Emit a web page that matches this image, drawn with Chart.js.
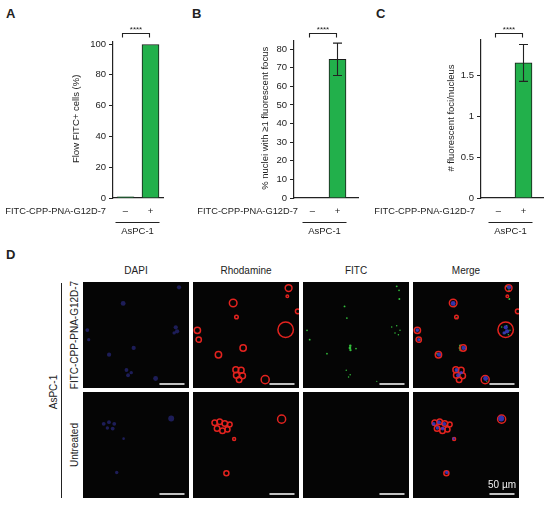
<!DOCTYPE html>
<html>
<head>
<meta charset="utf-8">
<script src="https://cdn.jsdelivr.net/npm/chart.js@4.4.1/dist/chart.umd.min.js"></script>
<style>
  body { margin: 0; background: #fff; }
  #fig { position: relative; width: 550px; height: 505px; font-family: "Liberation Sans", Arial, sans-serif; color: #222; overflow: hidden; }
  .box { position: absolute; }
  .tile { position: absolute; width: 106px; height: 106px; background: #050505; }
  .txt { position: absolute; font-size: 10px; white-space: nowrap; line-height: 12px; }
  .letter { position: absolute; font-size: 13px; font-weight: bold; line-height: 14px; }
  .rot { transform: translate(-50%, -50%) rotate(-90deg); }
  .ctr { transform: translate(-50%, -50%); }
</style>
</head>
<body>
<div id="fig">
  <div class="letter" style="left:6px;top:7px">A</div>
  <div class="letter" style="left:192px;top:7px">B</div>
  <div class="letter" style="left:376px;top:7px">C</div>
  <div class="letter" style="left:6px;top:248px">D</div>

  <div class="box" style="left:0;top:0;width:180px;height:240px"><canvas id="chartA"></canvas></div>
  <div class="box" style="left:180px;top:0;width:180px;height:240px"><canvas id="chartB"></canvas></div>
  <div class="box" style="left:360px;top:0;width:190px;height:240px"><canvas id="chartC"></canvas></div>

  <div class="txt ctr" style="left:136px;top:271px">DAPI</div>
  <div class="txt ctr" style="left:246px;top:271px">Rhodamine</div>
  <div class="txt ctr" style="left:356px;top:271px">FITC</div>
  <div class="txt ctr" style="left:466px;top:271px">Merge</div>
  <div class="txt rot" style="left:54px;top:392px">AsPC-1</div>
  <div style="position:absolute;left:61px;top:283px;width:1px;height:215px;background:#222"></div>
  <div class="txt rot" style="left:75px;top:335px">FITC-CPP-PNA-G12D-7</div>
  <div class="txt rot" style="left:75px;top:445px">Untreated</div>
  <div id="tiles"></div>
</div>

<script>
// ---- bar chart data (A, B, C) ----
const groups = ["–", "+"];
const treatmentLabel = "FITC-CPP-PNA-G12D-7";
const cellLine = "AsPC-1";

const flowFitcPct = [0.8, 99.7];
const nucleiFocusPct = [0, 74.5];
const nucleiFocusErr = [0, 8.7];
const fociPerNucleus = [0, 1.65];
const fociPerNucleusErr = [0, 0.225];

const ticksA = [0, 20, 40, 60, 80, 100];
const ticksB = [0, 10, 20, 30, 40, 50, 60, 70, 80];
const ticksC = [0, 0.5, 1, 1.5];
const tickLabelsC = ["0", "0.5", "1", "1.5"];

// ---- micrograph data: [x % of field, y % from top, radius % of field] ----
const FIELD_UM = 212;
const SCALE_BAR_UM = 50;
const channels = ["DAPI", "Rhodamine", "FITC", "Merge"];

const treatedRings = [
  [90.2, 5.7, 3.2], [89, 13.5, 1.2], [37.9, 19.8, 3.6], [41, 33, 1.7], [98.8, 27.7, 2.2],
  [87.4, 45, 7.3], [4.1, 45.6, 3], [5.4, 54.4, 2.5], [47.3, 62.3, 3], [24, 68.6, 3],
  [40.4, 82.7, 2.8], [45.4, 83.3, 2.8], [41, 88, 2.8], [46.7, 88.4, 2.8], [43.5, 92.1, 2.6],
  [68.1, 92.1, 3.8]
];
const treatedNuclei = [
  [90.6, 5, 2], [37.9, 20.2, 2.3], [87.5, 42.8, 2], [88.8, 46.5, 2], [86, 48, 1.6],
  [4.1, 45.4, 1.8], [5.4, 54.4, 1.5], [47.8, 62.2, 2], [24.6, 68.6, 2], [41, 83, 1.8],
  [42.5, 88, 1.8], [45.5, 85.5, 1.6], [68.5, 91, 2.3]
];
const treatedFoci = [
  [88.4, 4.1, 0.9], [90.6, 7.9, 0.8], [90.9, 16, 0.9], [39.2, 23, 0.9], [41.4, 34, 0.8],
  [3.8, 45.6, 0.8], [6.3, 54.4, 0.9], [83.7, 42.5, 0.7], [88.4, 41.2, 0.7], [91.5, 45.6, 0.7],
  [86.8, 48.1, 0.7], [90, 49.7, 0.7], [44.6, 60.2, 1.2], [44.3, 62.3, 1.3], [44.8, 64.3, 1.1],
  [50, 62.8, 0.8], [22.6, 67.6, 0.8], [40.8, 83.3, 0.7], [44.5, 87.4, 0.7], [43, 89.6, 0.7],
  [69.6, 93.7, 0.6]
];
const untreatedRings = [
  [20.5, 29, 2.6], [25.2, 28.1, 2.6], [30, 29.7, 2.6], [34.7, 30.6, 2.2], [22.7, 34.4, 2.6],
  [27.8, 36.6, 2.6], [32.5, 35.3, 2.4], [83.6, 25.6, 3.8], [38.8, 44.4, 1.4], [31.5, 76.6, 2.4]
];
const untreatedNuclei = [
  [19.5, 30, 1.8], [24.5, 28.5, 1.8], [29.5, 30, 1.8], [28, 34.5, 1.8], [23, 34, 1.6],
  [83.2, 25, 2.8], [38.3, 44, 1.2], [31.8, 76, 1.6]
];
const untreatedFoci = [];

const FONT = '"Liberation Sans", Arial, sans-serif';
const INK = "#222";

// error bars, significance bracket, category row and y title
const decorPlugin = {
  id: "decor",
  afterDraw(chart, args, o) {
    const { ctx, chartArea: a, scales: { x, y } } = chart;
    ctx.save();
    ctx.strokeStyle = INK;
    ctx.fillStyle = INK;
    ctx.lineWidth = 1.1;

    o.errs.forEach((e, i) => {
      if (!e) return;
      const cx = x.getPixelForValue(i);
      const t = y.getPixelForValue(o.values[i] + e);
      const b = y.getPixelForValue(o.values[i] - e);
      ctx.beginPath();
      ctx.moveTo(cx, t); ctx.lineTo(cx, b);
      ctx.moveTo(cx - 4.5, t); ctx.lineTo(cx + 4.5, t);
      ctx.moveTo(cx - 4.5, b); ctx.lineTo(cx + 4.5, b);
      ctx.stroke();
    });

    const x0 = x.getPixelForValue(0) - 3, x1 = x.getPixelForValue(1) - 1;
    ctx.beginPath();
    ctx.moveTo(x0, 37.5); ctx.lineTo(x0, 33.5); ctx.lineTo(x1, 33.5); ctx.lineTo(x1, 37.5);
    ctx.stroke();
    ctx.font = "8px " + FONT;
    ctx.textAlign = "center";
    ctx.textBaseline = "alphabetic";
    ctx.fillText("****", (x0 + x1) / 2, 31.8);

    ctx.font = "9.5px " + FONT;
    ctx.textBaseline = "middle";
    groups.forEach((g, i) => ctx.fillText(g, x.getPixelForValue(i), 211));
    ctx.textAlign = "right";
    ctx.font = "9.3px " + FONT;
    ctx.fillText(treatmentLabel, o.rowRight, 211);

    ctx.font = "9.5px " + FONT;
    const u0 = x.getPixelForValue(0) - 10, u1 = x.getPixelForValue(1) + 9;
    ctx.beginPath();
    ctx.moveTo(u0, 222.5); ctx.lineTo(u1, 222.5);
    ctx.stroke();
    ctx.textAlign = "center";
    ctx.fillText(cellLine, (u0 + u1) / 2, 231.5);

    ctx.translate(o.titleX, (a.top + a.bottom) / 2 - 1);
    ctx.rotate(-Math.PI / 2);
    ctx.fillText(o.title, 0, 0);
    ctx.restore();
  }
};

function barChart(id, p) {
  const el = document.getElementById(id);
  return new Chart(el, {
    type: "bar",
    data: {
      datasets: [{
        data: p.values.map((v, i) => ({ x: i, y: v })),
        backgroundColor: "#22b04b",
        borderColor: "#1a1a1a",
        borderWidth: 1,
        borderSkipped: "bottom",
        barThickness: 17
      }]
    },
    options: {
      responsive: true,
      maintainAspectRatio: false,
      animation: false,
      events: [],
      layout: { padding: { left: 0, top: p.top, right: p.width - p.right, bottom: 0 } },
      plugins: {
        legend: { display: false },
        tooltip: { enabled: false },
        decor: { values: p.values, errs: p.errs, title: p.title, titleX: p.titleX, rowRight: p.rowRight }
      },
      scales: {
        x: {
          type: "linear",
          min: p.xMin,
          max: p.xMax,
          offset: false,
          ticks: { display: false },
          grid: { display: false, offset: false },
          border: { display: true, color: INK, width: 1.2 },
          afterFit: s => { s.height = p.height - 198; }
        },
        y: {
          min: 0,
          max: p.yMax,
          afterBuildTicks: s => { s.ticks = p.ticks.map(v => ({ value: v })); },
          ticks: {
            font: { family: FONT, size: 9.5 },
            color: INK,
            padding: 3,
            callback: (v, i) => p.tickLabels ? p.tickLabels[i] : String(v)
          },
          grid: { drawOnChartArea: false, drawTicks: true, tickLength: 4, color: INK, lineWidth: 1 },
          border: { display: true, color: INK, width: 1.2 },
          afterFit: s => { s.width = p.axisX; }
        }
      }
    },
    plugins: [decorPlugin]
  });
}

barChart("chartA", {
  values: flowFitcPct, errs: [0, 0], ticks: ticksA, yMax: 101.5,
  title: "Flow FITC+ cells (%)", titleX: 76, rowRight: 106,
  axisX: 113, right: 163, top: 41.7, width: 180, height: 240, xMin: -0.5, xMax: 1.5
});
barChart("chartB", {
  values: nucleiFocusPct, errs: nucleiFocusErr, ticks: ticksB, yMax: 84.5,
  title: "% nuclei with \u22651 fluorescent focus", titleX: 85, rowRight: 118,
  axisX: 114, right: 178, top: 40.7, width: 180, height: 240, xMin: -0.74, xMax: 1.82
});
barChart("chartC", {
  values: fociPerNucleus, errs: fociPerNucleusErr, ticks: ticksC, tickLabels: tickLabelsC, yMax: 1.93,
  title: "# fluorescent foci/nucleus", titleX: 91, rowRight: 115,
  axisX: 121, right: 183, top: 40, width: 190, height: 240, xMin: -0.7, xMax: 1.78
});

// ---- micrographs ----
const rows = [
  { rings: treatedRings, nuclei: treatedNuclei, foci: treatedFoci },
  { rings: untreatedRings, nuclei: untreatedNuclei, foci: untreatedFoci }
];
const tileLeft = [83, 193, 303, 413];
const tileTop = [282, 392];

function radiusPx(c) {
  const sx = c.chart.scales.x;
  if (!sx || !c.raw) return 0;
  return sx.getPixelForValue(c.raw.r) - sx.getPixelForValue(0);
}
const pts = arr => arr.map(d => ({ x: d[0], y: d[1], r: d[2] }));

function nucleiSet(arr, color) {
  return { data: pts(arr), pointRadius: radiusPx, pointBackgroundColor: color, pointBorderWidth: 0 };
}
function ringSet(arr) {
  return { data: pts(arr), pointRadius: radiusPx, pointBackgroundColor: "rgba(0,0,0,0)",
           pointBorderColor: "#e3231f", pointBorderWidth: 1.5 };
}
function fociSet(arr) {
  return { data: pts(arr), pointRadius: radiusPx, pointBackgroundColor: "#33c13c", pointBorderWidth: 0 };
}

const scaleBarPlugin = {
  id: "scaleBar",
  afterDraw(chart, args, o) {
    const { ctx, chartArea: a, scales: { x } } = chart;
    const len = x.getPixelForValue(SCALE_BAR_UM / FIELD_UM * 100) - x.getPixelForValue(0);
    const xr = a.right - 4.5, xl = xr - len, yb = a.bottom - 4;
    ctx.save();
    ctx.strokeStyle = "#f2f2f2";
    ctx.lineWidth = 1.6;
    ctx.beginPath();
    ctx.moveTo(xl, yb); ctx.lineTo(xr, yb);
    ctx.stroke();
    if (o.label) {
      ctx.fillStyle = "#f2f2f2";
      ctx.font = "10px " + FONT;
      ctx.textAlign = "center";
      ctx.textBaseline = "middle";
      ctx.fillText(SCALE_BAR_UM + " \u00b5m", (xl + xr) / 2, yb - 8.5);
    }
    ctx.restore();
  }
};

const tilesEl = document.getElementById("tiles");
rows.forEach((row, ri) => {
  channels.forEach((ch, ci) => {
    const box = document.createElement("div");
    box.className = "tile";
    box.style.left = tileLeft[ci] + "px";
    box.style.top = tileTop[ri] + "px";
    const cv = document.createElement("canvas");
    box.appendChild(cv);
    tilesEl.appendChild(box);

    let datasets = [];
    if (ch === "DAPI") datasets = [nucleiSet(row.nuclei, "rgba(60,60,190,0.45)")];
    if (ch === "Rhodamine") datasets = [ringSet(row.rings)];
    if (ch === "FITC") datasets = [fociSet(row.foci)];
    if (ch === "Merge") datasets = [nucleiSet(row.nuclei, "rgba(60,60,200,0.85)"), ringSet(row.rings), fociSet(row.foci)];

    new Chart(cv, {
      type: "scatter",
      data: { datasets },
      options: {
        responsive: true,
        maintainAspectRatio: false,
        animation: false,
        events: [],
        layout: { padding: 0 },
        plugins: {
          legend: { display: false },
          tooltip: { enabled: false },
          scaleBar: { label: ri === 1 && ch === "Merge" }
        },
        scales: {
          x: { display: false, min: 0, max: 100 },
          y: { display: false, min: 0, max: 100, reverse: true }
        }
      },
      plugins: [scaleBarPlugin]
    });
  });
});
</script>
</body>
</html>
